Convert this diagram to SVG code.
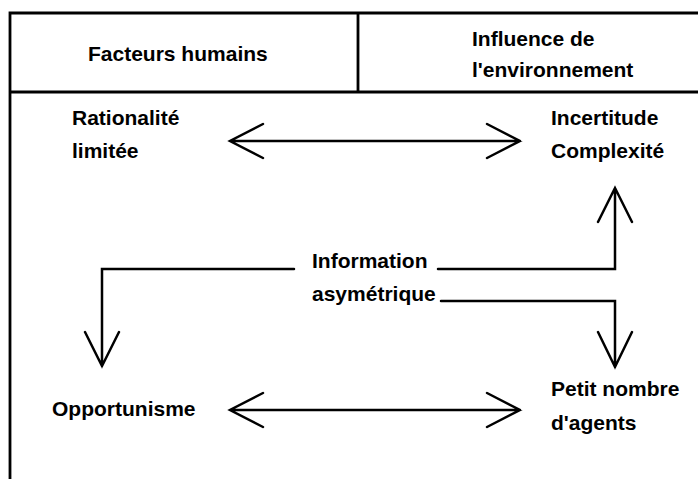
<svg xmlns="http://www.w3.org/2000/svg" width="698" height="479" viewBox="0 0 698 479">
<style>
.t{font-family:"Liberation Sans",Arial,sans-serif;font-weight:bold;font-size:21px;fill:#000}
.f{stroke:#000;stroke-width:2.8;fill:none}
.c{stroke:#000;stroke-width:2.5;fill:none;stroke-linecap:round;stroke-linejoin:miter}
</style>
<rect width="698" height="479" fill="#fff"/>
<g id="frame">
<path class="f" d="M10,479 V13 H698 M10,92 H698 M358,13 V92"/>
</g>
<g id="header-humains"><text class="t" x="88" y="61">Facteurs humains</text></g>
<g id="header-env"><text class="t" x="472" y="46">Influence de</text><text class="t" x="472" y="77">l'environnement</text></g>
<g id="rationalite"><text class="t" x="72" y="125">Rationalité</text><text class="t" x="72" y="158">limitée</text></g>
<g id="incertitude"><text class="t" x="551" y="125">Incertitude</text><text class="t" x="551" y="158">Complexité</text></g>
<g id="information"><text class="t" x="312" y="268">Information</text><text class="t" x="312" y="301">asymétrique</text></g>
<g id="opportunisme"><text class="t" x="52" y="416">Opportunisme</text></g>
<g id="petit-nombre"><text class="t" x="551" y="396">Petit nombre</text><text class="t" x="551" y="430">d'agents</text></g>
<g id="connectors">
<path class="c" d="M230,141 H520 M263,124 L230,141 L263,158 M487,124 L520,141 L487,158"/>
<path class="c" d="M230,410 H520 M263,393 L230,410 L263,427 M487,393 L520,410 L487,427"/>
<path class="c" d="M294,269 H102 V366 M85,332 L102,366 L119,332"/>
<path class="c" d="M438,269 H615 V188 M598,222 L615,188 L632,222"/>
<path class="c" d="M441,301 H615 V367 M598,332 L615,367 L632,332"/>
</g>
</svg>
